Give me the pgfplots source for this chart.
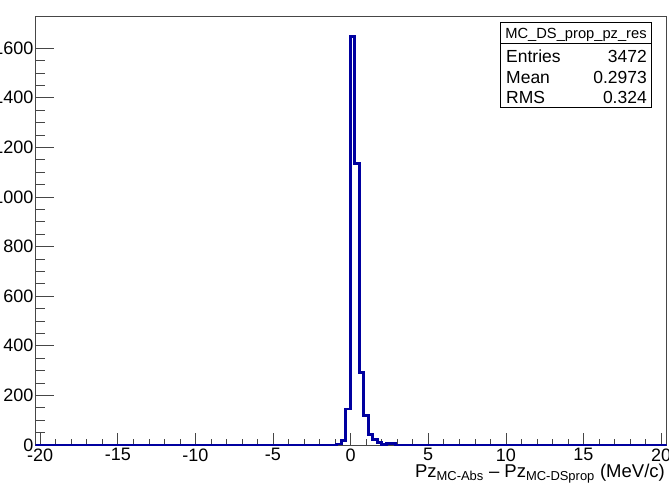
\documentclass[border=0pt]{standalone}
\usepackage{pgfplots}
\pgfplotsset{compat=1.18}
\usepackage{fontspec}
\setmainfont{Liberation Sans}
\definecolor{histblue}{RGB}{0,0,160}
\definecolor{framegray}{RGB}{70,70,70}
\begin{document}
\begin{tikzpicture}[x=1pt,y=1pt]
\useasboundingbox (0,0) rectangle (669,488);
\begin{axis}[
  at={(35.5pt,43pt)}, anchor=south west,
  scale only axis, width=631pt, height=428.7pt,
  xmin=-20.3, xmax=20.35, ymin=0, ymax=1728,
  xtick={-20,-15,...,20}, minor x tick num=4,
  ytick={0,200,...,1600}, minor y tick num=3,
  xtick pos=bottom, ytick pos=left, tick align=inside,
  axis line style={framegray, line width=0.8pt},
  tick style={framegray, line width=0.6pt},
  xtick style={/pgfplots/major tick length=12pt, /pgfplots/minor tick length=6pt},
  ytick style={/pgfplots/major tick length=18pt, /pgfplots/minor tick length=9pt},
  /pgf/number format/assume math mode=true,
  /pgf/number format/1000 sep={},
  ticklabel style={font=\fontsize{18}{21}\selectfont},
  yticklabel style={xshift=1.5pt},
  xticklabel style={yshift=0pt},
]
\addplot[const plot, histblue, line width=2.9pt, line join=miter] coordinates {
(-20.3,0) (-0.90,4) (-0.61,17) (-0.32,145) (-0.03,1648) (0.26,1135) (0.55,293)
(0.84,118) (1.13,43) (1.42,23) (1.71,9) (2.00,2) (2.29,6) (2.58,6) (2.87,0) (20.35,0)
};
\end{axis}
% x-axis title
\node[anchor=base east, inner sep=0pt, font=\fontsize{18.5}{22}\selectfont] at (665,10.5)
  {Pz\textsubscript{MC-Abs} – Pz\textsubscript{MC-DSprop} (MeV/c)};
% stats box
\draw[black, line width=0.7pt, fill=white] (500,380.7) rectangle (651,465.7);
\draw[black, line width=0.7pt] (500,444.7) -- (651,444.7);
\node[anchor=base, inner sep=0pt, font=\fontsize{14.7}{17}\selectfont] at (576,449.5) {MC\_DS\_prop\_pz\_res};
\begin{scope}[every node/.style={inner sep=0pt, font=\fontsize{17.5}{20}\selectfont}]
\node[anchor=base west] at (506,425.5) {Entries};
\node[anchor=base east] at (647,425.5) {3472};
\node[anchor=base west] at (506,404.5) {Mean};
\node[anchor=base east] at (647,404.5) {0.2973};
\node[anchor=base west] at (506,384) {RMS};
\node[anchor=base east] at (647,384) {0.324};
\end{scope}
\end{tikzpicture}
\end{document}
